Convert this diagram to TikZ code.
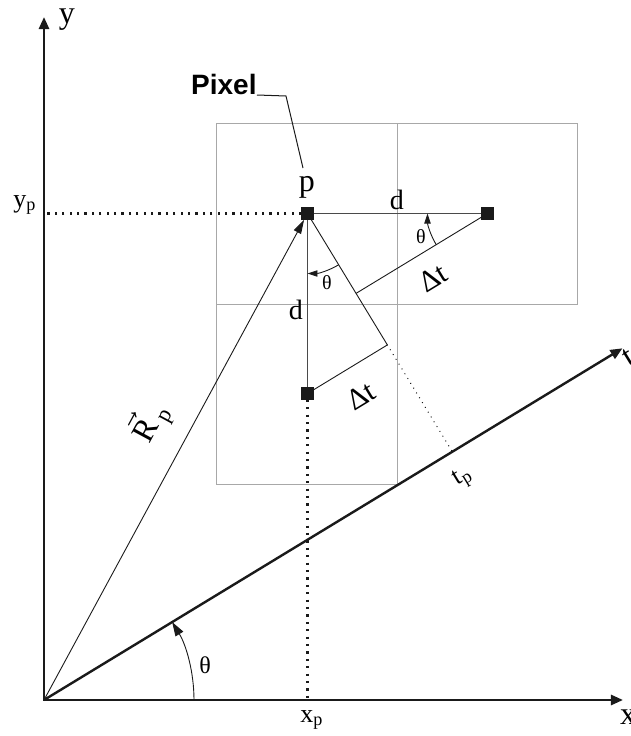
\documentclass[tikz,border=0pt]{standalone}
\usepackage{fontspec}
\setmainfont{Liberation Serif}
\newfontfamily\pixsans{Liberation Sans}
\usepackage{tikz}
\usepackage{xcolor}
\usetikzlibrary{arrows.meta, calc}
\definecolor{colInk}{HTML}{1A1A1A}
\definecolor{colGrid}{HTML}{A8A8A8}
\definecolor{colLine}{HTML}{4A4A4A}
\tikzset{
  % Coordinate axes (x, y and the rotated t axis)
  coordaxis/.style={
    line width=1.3pt, colInk,
    -{Triangle[length=6pt,width=5pt]},
  },
  % Pixel grid cells
  gridcell/.style={draw=colGrid, line width=0.5pt},
  % Pixel centres (filled squares)
  pixsq/.style={
    fill=colInk, minimum size=6.3pt,
    inner sep=0pt, outer sep=0pt,
  },
  % Construction lines
  thinline/.style={colInk, line width=0.45pt},
  dline/.style={colLine, line width=0.6pt},
  % Position vector
  vecarr/.style={thinline, -{Triangle[length=7pt,width=4pt]}},
  % Angle arcs
  arcbig/.style={thinline, -{Triangle[length=7pt,width=4.5pt]}},
  arcsmall/.style={thinline, -{Triangle[length=5pt,width=3.2pt]}},
  % Dotted projections
  projdot/.style={colInk, line width=1.1pt, dash pattern=on 1.1pt off 2.6pt},
  finedot/.style={
    colInk, line width=0.7pt,
    dash pattern=on 0.01pt off 2.8pt, line cap=round,
  },
  % Labels
  lbl/.style={inner sep=1pt, font=\fontsize{13}{15}\selectfont},
  biglbl/.style={inner sep=1pt, font=\fontsize{16}{18}\selectfont},
  thlbl/.style={inner sep=1pt, font=\fontsize{10}{12}\selectfont},
  dtlbl/.style={inner sep=0pt, font=\fontsize{15}{17}\selectfont},
  pixlbl/.style={inner sep=0pt, font=\pixsans\bfseries\fontsize{14}{16}\selectfont},
  leader/.style={colInk, line width=0.5pt},
}

\begin{document}
\begin{tikzpicture}[x=0.5pt, y=0.5pt]
\useasboundingbox (0,0) rectangle (631,736);

%% ═══════════════════════════════════════════════════════════════
%% PIXEL GRID – three cells (L shape)
%% ═══════════════════════════════════════════════════════════════

\draw[gridcell] (217,432) rectangle (398,613);
\draw[gridcell] (398,432) rectangle (578,613);
\draw[gridcell] (217,252) rectangle (398,432);

%% ═══════════════════════════════════════════════════════════════
%% AXES – x, y and the projection axis t at angle theta
%% ═══════════════════════════════════════════════════════════════

\pgfmathsetmacro{\tang}{31.3}
\coordinate (O) at (44,36);
\coordinate (ytip) at (44,719);
\coordinate (xtip) at (623,36);
\coordinate (ttip) at ($(O)+(\tang:677)$);

\draw[coordaxis, {Triangle[length=6pt,width=5pt]}-{Triangle[length=6pt,width=5pt]}]
  (ytip) -- (O) -- (xtip);
\draw[coordaxis, line width=1.2pt] (O) -- (ttip);

%% ═══════════════════════════════════════════════════════════════
%% PIXELS – p and its right / lower neighbours
%% ═══════════════════════════════════════════════════════════════

\node[pixsq] (p) at (307.5,522.5) {};
\node[pixsq] (q) at (487.5,522.5) {};
\node[pixsq] (r) at (307.5,342.5) {};

% projections onto t and onto the normal through p
\coordinate (tp) at ($(O)!(p.center)!(ttip)$);
\coordinate (f)  at ($(p.center)!(r.center)!(tp)$);
\coordinate (g)  at ($(p.center)!(q.center)!(tp)$);

\draw[dline] (p) -- (q);
\draw[dline] (p) -- (r);
\draw[thinline] (p) -- (f);
\draw[thinline] (q) -- (g);
\draw[thinline] (r) -- (f);
\draw[finedot] (f) -- (tp);
\draw[projdot] (p) -- (p -| O);
\draw[projdot] (r) -- (r |- O);
\draw[vecarr] (O) -- (p);

% angle arcs
\draw[arcbig] ($(O)+(0:150)$) arc[start angle=0, end angle=\tang, radius=150];
\draw[arcsmall] ($(q.center)+({180+\tang}:60)$)
  arc[start angle={180+\tang}, end angle=180, radius=60];
\draw[arcsmall] ($(p.center)+({270+\tang}:60)$)
  arc[start angle={270+\tang}, end angle=270, radius=60];

%% ═══════════════════════════════════════════════════════════════
%% LABELS
%% ═══════════════════════════════════════════════════════════════

\node[biglbl] (ylbl) at (67,716) {y};
\node[biglbl] (xlbl) at (628,19) {x};
\node[biglbl, rotate=\tang] (tlbl) at (629,378) {t};
\node[lbl] (yplbl) at (25,531) {y\textsubscript{p}};
\node[lbl] (xplbl) at (312,16) {x\textsubscript{p}};
\node[lbl, rotate=\tang] (tplbl) at (463,258) {t\textsubscript{p}};
\node[biglbl] (plbl) at (307,549) {p};
\node[lbl, font=\fontsize{14}{16}\selectfont] (dtop) at (397,536) {d};
\node[lbl, font=\fontsize{14}{16}\selectfont] (dleft) at (296,426) {d};
\node[thlbl] (thq) at (421,499) {θ};
\node[thlbl] (thp) at (327,453) {θ};
\node[lbl, font=\fontsize{12}{14}\selectfont] (tho) at (205,71) {θ};
\node[dtlbl, rotate=\tang] (dtq) at (433,458) {Δt};
\node[dtlbl, rotate=\tang] (dtr) at (361,340) {Δt};
\node[biglbl, rotate=61.6] (rplbl) at (150,314) {$\vec{\mbox{R}}$\,\textsubscript{p}};

% "Pixel" call-out with its leader line
\node[pixlbl, anchor=base east] (pixtxt) at (257,641) {Pixel};
\coordinate (pixknee) at (286,640);
\coordinate (pixend) at (303,568);
\draw[leader] (pixtxt.base east) -- (pixknee) -- (pixend);

\end{tikzpicture}
\end{document}
